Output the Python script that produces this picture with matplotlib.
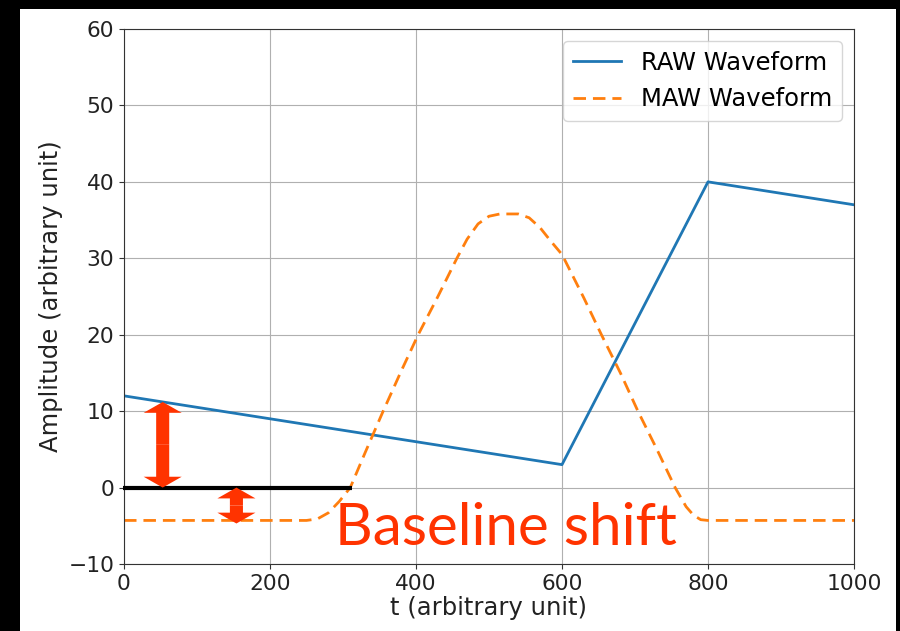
import matplotlib
matplotlib.use('Agg')
import matplotlib.pyplot as plt
from matplotlib.patches import Rectangle
import numpy as np

# raw detector trace (piecewise: slow decay, sharp rise, slow decay)
raw_t = [0, 600, 800, 1000]
raw_y = [12, 3, 40, 37]

# moving-average-window output
maw_t = [0, 250, 265, 280, 295, 310, 330, 355, 380, 403, 430, 456, 470, 485,
         500, 515, 540, 555, 570, 585, 600, 630, 654, 680, 704, 730, 755,
         770, 780, 790, 800, 1000]
maw_y = [-4.3, -4.3, -4.1, -3.3, -1.8, 0, 4.5, 10, 15.3, 20, 25, 30, 32.5, 34.5,
         35.5, 35.8, 35.8, 35.3, 34, 32.2, 30.5, 24.8, 20, 15, 10, 5, 0,
         -2.5, -3.6, -4.2, -4.3, -4.3]

# zero reference and the two offset arrows
zero_t = [-2, 313]
zero_y = [0, 0]
big_arrow = (53, 0, 11.2)      # t, y_low, y_high
small_arrow = (154, -4.7, 0)

fig = plt.figure(figsize=(9, 6.31), dpi=100, facecolor='black')
fig.patches.append(Rectangle((20/900, 0), 876/900, 622/631, transform=fig.transFigure,
                             facecolor='white', edgecolor='none', zorder=-10))
ax = fig.add_axes([124/900, 67/631, 730/900, 535/631])

ax.plot(raw_t, raw_y, color='#1f77b4', lw=2, label='RAW Waveform')
ax.plot(maw_t, maw_y, color='#ff7f0e', lw=2, dashes=(4.5, 2.5), label='MAW Waveform')
ax.plot(zero_t, zero_y, color='black', lw=3, solid_capstyle='butt', clip_on=False, zorder=4)

red = '#ff3300'
style = 'simple,head_length=0.78,head_width=2.74,tail_width=0.94'
for t, lo, hi in [big_arrow, small_arrow]:
    mid = (lo + hi) / 2
    for end in (lo, hi):
        ax.annotate('', xy=(t, end), xytext=(t, mid),
                    arrowprops=dict(arrowstyle=style, color=red, lw=0,
                                    shrinkA=0, shrinkB=0, mutation_scale=10),
                    zorder=5)

ax.text(289, -7.5, 'Baseline shift', color=red, fontsize=42,
        family=['Lato', 'DejaVu Sans'], fontweight='normal', va='baseline', zorder=6)

ax.set_xlim(0, 1000)
ax.set_ylim(-10, 60)
ax.set_xticks([0, 200, 400, 600, 800, 1000])
ax.set_yticks([-10, 0, 10, 20, 30, 40, 50, 60])
ax.grid(True, color='#b0b0b0', lw=0.8)
ax.set_axisbelow(True)
ax.tick_params(labelsize=15.7, length=3.5, color='#333333', labelcolor='#222222')
for s in ax.spines.values():
    s.set_color('#333333')
ax.set_xlabel('t (arbitrary unit)', fontsize=17.5, labelpad=2, color='#222222')
ax.set_ylabel('Amplitude (arbitrary unit)', fontsize=17.5, color='#222222')
ax.legend(loc='upper right', fontsize=17.5, framealpha=0.8)

fig.savefig('out.png', dpi=100, facecolor=fig.get_facecolor())
